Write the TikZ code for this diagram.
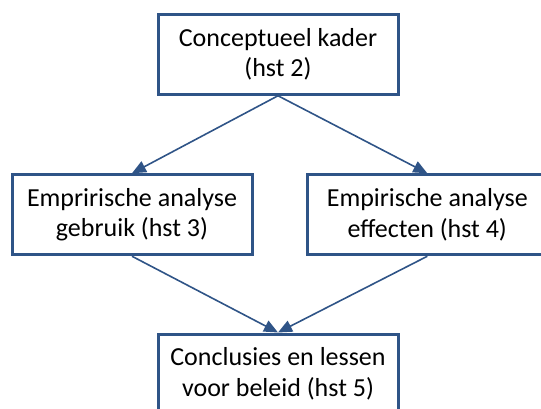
\documentclass[tikz,border=0pt]{standalone}
\usepackage{fontspec}
\setmainfont{Carlito}
\usetikzlibrary{arrows.meta}
\definecolor{frame}{HTML}{2F5487}
\begin{document}
\begin{tikzpicture}[x=1pt,y=-1pt,
  box/.style={draw=frame, line width=3pt, fill=white,
    minimum width=240pt, minimum height=80pt, inner sep=0pt,
    align=center, text=black, font=\fontsize{26}{30.5}\selectfont},
  link/.style={draw=frame, line width=1.6pt,
    -{Triangle[length=14pt,width=12pt]}}]
\useasboundingbox (0,0) rectangle (541,408);
% chapter boxes
\node[box] (kader)    at (278,54.25)  {Conceptueel kader\\(hst 2)};
\node[box] (gebruik)  at (132,214.75) {Emprirische analyse\\gebruik (hst 3)};
\node[box] (effecten) at (427.3,214.75) {Empirische analyse\\effecten (hst 4)};
\node[box] (beleid)   at (278,374)    {Conclusies en lessen\\voor beleid (hst 5)};
% flow between chapters
\draw[link] (kader.south) -- (gebruik.north);
\draw[link] (kader.south) -- (effecten.north);
\draw[link] (gebruik.south) -- (beleid.north);
\draw[link] (effecten.south) -- (beleid.north);
\end{tikzpicture}
\end{document}
